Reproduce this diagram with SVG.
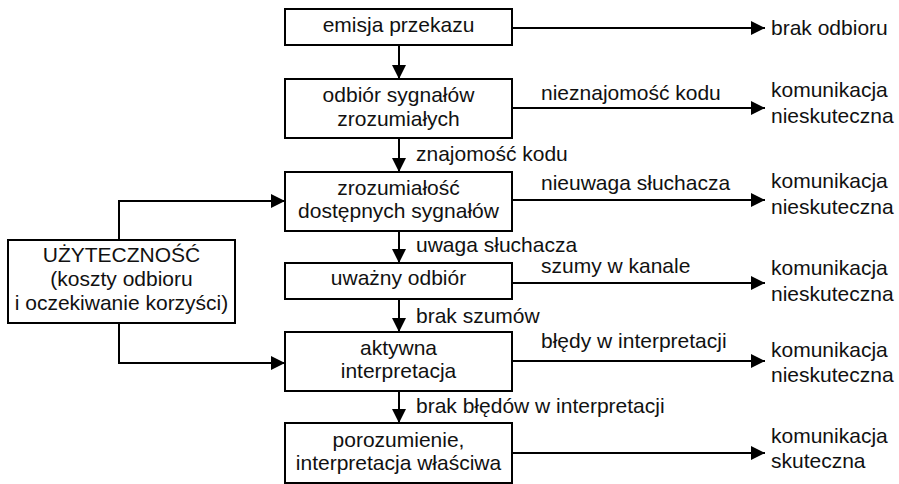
<svg xmlns="http://www.w3.org/2000/svg" width="899" height="484" viewBox="0 0 899 484">
<defs>
<marker id="ah" markerUnits="userSpaceOnUse" markerWidth="16" markerHeight="16" refX="14" refY="7" orient="auto">
<path d="M0,0 L14,7 L0,14 z" fill="#000"/>
</marker>
<style>
rect{fill:#fff;stroke:#000;stroke-width:2}
text{font-family:"Liberation Sans",Arial,sans-serif;font-size:21px;fill:#111}
.c{text-anchor:middle}
.ln{fill:none;stroke:#000;stroke-width:2;marker-end:url(#ah)}
</style>
</defs>
<rect x="0" y="0" width="899" height="484" style="fill:#fff;stroke:none"/>
<g id="connectors">
<path class="ln" d="M399,46 V79"/>
<path class="ln" d="M399,139 V172"/>
<path class="ln" d="M399,232 V263"/>
<path class="ln" d="M399,300 V332"/>
<path class="ln" d="M399,392 V423"/>
<path class="ln" d="M512,28 H765"/>
<path class="ln" d="M512,108 H765"/>
<path class="ln" d="M512,200 H765"/>
<path class="ln" d="M512,283 H765"/>
<path class="ln" d="M512,361 H765"/>
<path class="ln" d="M512,453 H765"/>
<path class="ln" d="M119,240 V201 H285"/>
<path class="ln" d="M119,323 V363 H285"/>
<text x="416" y="161">znajomość kodu</text>
<text x="416" y="252">uwaga słuchacza</text>
<text x="416" y="323">brak szumów</text>
<text x="416" y="413">brak błędów w interpretacji</text>
<text x="541" y="100">nieznajomość kodu</text>
<text x="541" y="190">nieuwaga słuchacza</text>
<text x="541" y="273">szumy w kanale</text>
<text x="541" y="348">błędy w interpretacji</text>
</g>
<g id="n1"><rect x="285" y="9" width="227" height="36"/><text class="c" x="398.5" y="32">emisja przekazu</text></g>
<g id="n2"><rect x="285" y="79" width="227" height="59"/><text class="c" x="398.5" y="102">odbiór sygnałów</text><text class="c" x="398.5" y="126">zrozumiałych</text></g>
<g id="n3"><rect x="285" y="172" width="227" height="59"/><text class="c" x="398.5" y="195">zrozumiałość</text><text class="c" x="398.5" y="218">dostępnych sygnałów</text></g>
<g id="n4"><rect x="285" y="263" width="227" height="36"/><text class="c" x="398.5" y="285">uważny odbiór</text></g>
<g id="n5"><rect x="285" y="332" width="227" height="59"/><text class="c" x="398.5" y="355">aktywna</text><text class="c" x="398.5" y="378">interpretacja</text></g>
<g id="n6"><rect x="285" y="423" width="227" height="60"/><text class="c" x="398.5" y="447">porozumienie,</text><text class="c" x="398.5" y="470">interpretacja właściwa</text></g>
<g id="n7"><rect x="8" y="240" width="227" height="83"/><text class="c" x="121.5" y="262">UŻYTECZNOŚĆ</text><text class="c" x="121.5" y="286">(koszty odbioru</text><text class="c" x="121.5" y="310">i oczekiwanie korzyści)</text></g>
<g id="r1"><text x="771" y="35">brak odbioru</text></g>
<g id="r2"><text x="771" y="97">komunikacja</text><text x="771" y="123">nieskuteczna</text></g>
<g id="r3"><text x="771" y="188">komunikacja</text><text x="771" y="214">nieskuteczna</text></g>
<g id="r4"><text x="771" y="275">komunikacja</text><text x="771" y="301">nieskuteczna</text></g>
<g id="r5"><text x="771" y="357">komunikacja</text><text x="771" y="382">nieskuteczna</text></g>
<g id="r6"><text x="771" y="443">komunikacja</text><text x="771" y="468">skuteczna</text></g>
</svg>
